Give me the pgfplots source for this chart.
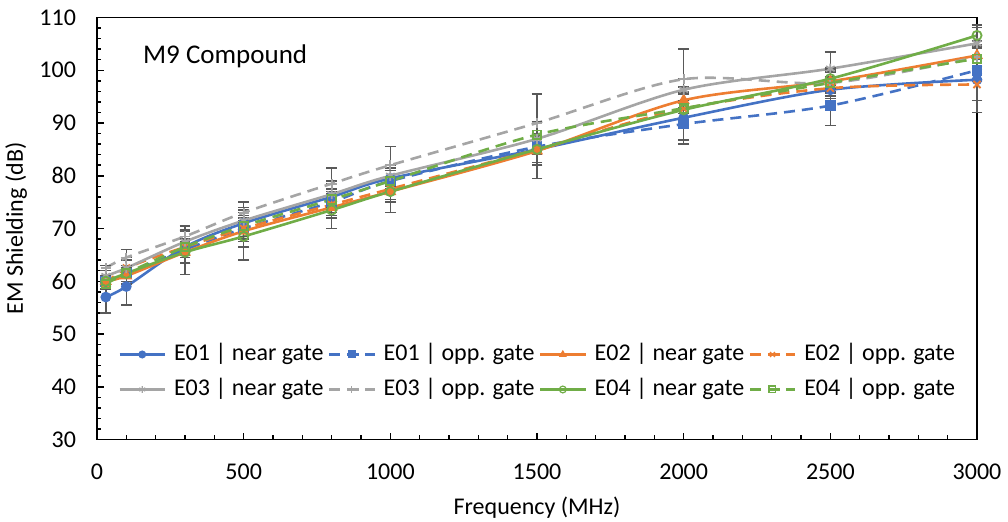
\documentclass[border=0pt]{standalone}
\usepackage{pgfplots}
\pgfplotsset{compat=1.18}
\usepackage{pgfplotstable}
\usepackage{fontspec}
\setmainfont{Carlito}
\usetikzlibrary{plotmarks}

\definecolor{cblue}{HTML}{4472C4}
\definecolor{corange}{HTML}{ED7D31}
\definecolor{cgray}{HTML}{A5A5A5}
\definecolor{cgreen}{HTML}{70AD47}
\definecolor{errgray}{HTML}{595959}

\pgfplotstableread{
x y e
30 57 3
100 59 3.5
300 66.5 3
500 71 3
800 76 2.5
1000 79.5 2
1500 85 3
2000 91 5
2500 96.3 2.5
3000 98.2 6.2
}\eOneNear
\pgfplotstableread{
x y e
30 60 1
100 61.5 1.5
300 66 2.5
500 70 3.5
800 75 2
1000 79 2
1500 85.5 1.5
2000 89.8 3
2500 93.3 3.8
3000 100 2
}\eOneOpp
\pgfplotstableread{
x y e
30 60 1
100 61 1.5
300 65.5 2
500 69.5 2
800 74 2
1000 77 2
1500 84.7 5.2
2000 94.3 2.5
2500 97.9 2
3000 102.8 2
}\eTwoNear
\pgfplotstableread{
x y e
30 59.5 1
100 62.5 1.5
300 66.5 2
500 70 2
800 74.5 2
1000 77.5 2
1500 85 2.5
2000 92.7 3
2500 96.6 2
3000 97.3 3
}\eTwoOpp
\pgfplotstableread{
x y e
30 61 1
100 62.5 2
300 67.5 2
500 71.5 2
800 76.5 2.5
1000 80 2
1500 87 3
2000 96.3 2
2500 100.3 3.2
3000 105.1 3
}\eThreeNear
\pgfplotstableread{
x y e
30 62.5 0.5
100 64.5 1.5
300 68.5 2
500 73 2
800 78.5 3
1000 82 3.5
1500 90 5.5
2000 98.3 5.7
2500 97.6 2
3000 102.5 3
}\eThreeOpp
\pgfplotstableread{
x y e
30 60 1
100 61.5 1
300 65.5 4.2
500 68.5 4.5
800 73.5 3.5
1000 77 4
1500 85 3
2000 92.5 3
2500 98.4 2
3000 106.6 2
}\eFourNear
\pgfplotstableread{
x y e
30 59.5 1
100 61.5 1.5
300 66.5 1.5
500 70.5 2
800 75.5 2
1000 79 2
1500 87.8 2.5
2000 92.8 3
2500 97.6 2.5
3000 102.2 2
}\eFourOpp

\pgfplotsset{
  myerr/.style={error bars/.cd, y dir=both, y explicit,
    error bar style={errgray, line width=0.75pt, solid},
    error mark options={rotate=90, mark size=2.7pt, errgray, line width=0.75pt, solid}},
  ser/.style={line width=1.3pt, smooth, tension=0.5},
  dsh/.style={dash pattern=on 5.5pt off 3.5pt},
}

\begin{document}
\begin{tikzpicture}
\useasboundingbox (-48.5pt,-41pt) rectangle (455.5pt,219.75pt);
\begin{axis}[
  at={(0,0)}, anchor=south west,
  scale only axis, width=440pt, height=211pt,
  xmin=0, xmax=3000, ymin=30, ymax=110,
  xtick={0,500,...,3000}, ytick={30,40,...,110},
  minor x tick num=4, minor y tick num=4,
  tick align=inside, xtick pos=bottom, ytick pos=left,
  major tick length=3.5pt, minor tick length=2.25pt,
  tick style={black, line width=0.75pt},
  axis line style={line width=0.75pt},
  /pgf/number format/assume math mode=true,
  /pgf/number format/1000 sep={},
  tick label style={font=\fontsize{12}{14}\selectfont},
  xticklabel style={anchor=center, yshift=-16pt},
  yticklabel style={anchor=east, xshift=-7pt},
  xlabel={Frequency (MHz)}, ylabel={EM Shielding (dB)},
  every axis x label/.style={at={(axis description cs:0.5,-0.161)}, anchor=center, font=\fontsize{12}{14}\selectfont},
  every axis y label/.style={at={(axis description cs:-0.092,0.5)}, rotate=90, anchor=center, font=\fontsize{12}{14}\selectfont},
  legend columns=4,
  legend style={at={(axis description cs:0.0239,0.16)}, anchor=west, draw=none, fill=none,
    inner sep=0pt, font=\fontsize{12}{14}\selectfont, row sep=4.5pt,
    nodes={inner sep=1pt, text height=8.5pt, text depth=2.5pt},
    /tikz/every odd column/.append style={column sep=3pt},
    /tikz/every even column/.append style={column sep=1.2pt},
    cells={anchor=west}},
  legend image code/.code={\draw[mark repeat=2,mark phase=2,#1] plot coordinates {(0pt,0pt) (11.25pt,0pt) (22.5pt,0pt)};},
  legend image post style={mark size=1.7pt, every mark/.append style={line width=0.6pt}},
  clip=false,
]
\addplot[cblue, ser, mark=*, mark size=2pt, mark options={solid, fill=cblue}, myerr] table[x=x, y=y, y error=e] {\eOneNear};
\addlegendentry{E01 | near gate}
\addplot[cblue, ser, dsh, mark=square*, mark size=2pt, mark options={solid, fill=cblue}, myerr] table[x=x, y=y, y error=e] {\eOneOpp};
\addlegendentry{E01 | opp. gate}
\addplot[corange, ser, mark=triangle*, mark size=2.2pt, mark options={solid, fill=corange}, myerr] table[x=x, y=y, y error=e] {\eTwoNear};
\addlegendentry{E02 | near gate}
\addplot[corange, ser, dsh, mark=x, mark size=2.5pt, mark options={solid, line width=0.9pt}, myerr] table[x=x, y=y, y error=e] {\eTwoOpp};
\addlegendentry{E02 | opp. gate}
\addplot[cgray, ser, mark=asterisk, mark size=2.5pt, mark options={solid, line width=0.9pt}, myerr] table[x=x, y=y, y error=e] {\eThreeNear};
\addlegendentry{E03 | near gate}
\addplot[cgray, ser, dsh, mark=+, mark size=2.5pt, mark options={solid, line width=0.9pt}, myerr] table[x=x, y=y, y error=e] {\eThreeOpp};
\addlegendentry{E03 | opp. gate}
\addplot[cgreen, ser, mark=o, mark size=2.3pt, mark options={solid, line width=0.9pt}, myerr] table[x=x, y=y, y error=e] {\eFourNear};
\addlegendentry{E04 | near gate}
\addplot[cgreen, ser, dsh, mark=square, mark size=2.1pt, mark options={solid, line width=0.9pt}, myerr] table[x=x, y=y, y error=e] {\eFourOpp};
\addlegendentry{E04 | opp. gate}
\node[anchor=base west, inner sep=0pt, font=\fontsize{13.5}{16}\selectfont] at (axis description cs:0.052,0.891) {M9 Compound};
\end{axis}
\end{tikzpicture}
\end{document}
